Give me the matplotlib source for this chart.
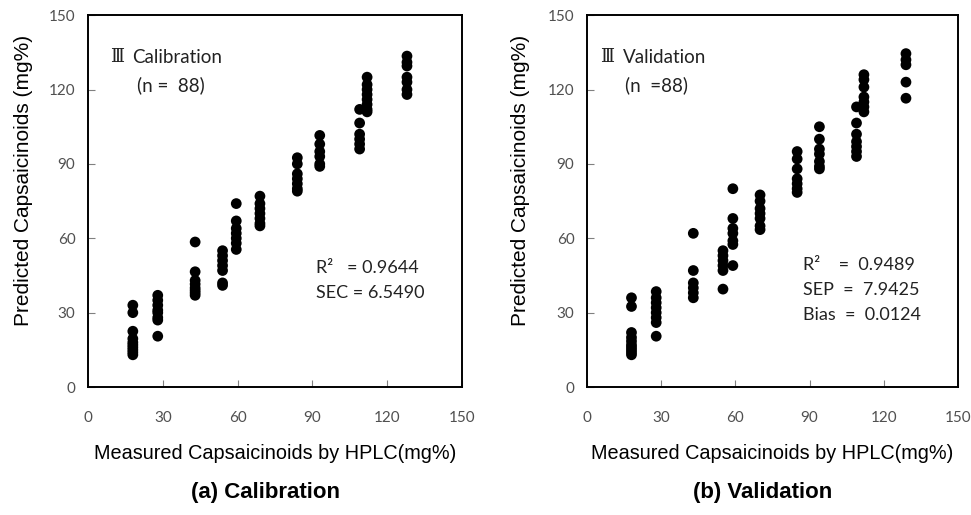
import matplotlib
matplotlib.use("Agg")
import matplotlib.pyplot as plt

# ---------------- data ----------------
cal_x = [18]*10 + [28]*8 + [43]*8 + [54]*7 + [59.5]*7 + [69]*7 + [84]*7 + [93]*6 + [109]*6 + [112]*8 + [128]*7
cal_y = [33, 30, 22.5, 19.5, 18, 17, 16, 15, 14, 13,
         37, 35, 33, 31, 30, 28, 27, 20.5,
         58.5, 46.5, 43, 41.5, 40, 39, 38, 37,
         55, 53, 51, 49, 47, 42, 41,
         74, 67, 64, 62, 60, 58, 55.5,
         77, 74, 72, 70, 68, 66, 65,
         92.5, 90, 86, 84, 82, 80, 79,
         101.5, 98, 95, 93, 90, 89,
         112, 106.5, 102, 100, 98, 96,
         125, 122, 120, 118, 116, 114, 112, 111,
         133.5, 131, 129.5, 125, 123, 120, 118]

val_x = [18]*10 + [28]*8 + [43]*6 + [55]*6 + [59]*7 + [70]*7 + [85]*7 + [94]*7 + [109]*7 + [112]*7 + [129]*5
val_y = [36, 32.5, 22, 20, 18.5, 17, 16, 15, 14, 13,
         38.5, 36, 34, 32, 30, 28, 26, 20.5,
         62, 47, 42, 40, 38, 36,
         55, 53, 51, 49, 47, 39.5,
         80, 68, 64, 62, 59, 57.5, 49,
         77.5, 75, 72, 70, 68, 65, 63.5,
         95, 92, 88, 84, 82, 80, 78.5,
         105, 100, 96, 94, 91, 89, 88,
         113, 106.5, 102, 99, 97, 95, 93,
         126, 124, 121, 117, 115, 113, 111,
         134.5, 132, 130, 123, 116.5]

ticks = [0, 30, 60, 90, 120, 150]
xlabel = "Measured Capsaicinoids by HPLC(mg%)"
ylabel = "Predicted Capsaicinoids (mg%)"

panels = [
    dict(x=cal_x, y=cal_y, title="Calibration", n="(n =  88)",
         stats=["R\u00b2   = 0.9644", "SEC = 6.5490"], caption="(a) Calibration",
         rect=[0.0906, 0.2485, 0.385, 0.722], tpos=(0.058, 0.887), npos=(0.131, 0.812),
         spos=(0.61, 0.32), ylab_x=-0.147),
    dict(x=val_x, y=val_y, title="Validation", n="(n  =88)",
         stats=["R\u00b2    =  0.9489", "SEP  =  7.9425", "Bias  =  0.0124"], caption="(b) Validation",
         rect=[0.6045, 0.2485, 0.382, 0.722], tpos=(0.036, 0.887), npos=(0.102, 0.812),
         spos=(0.582, 0.328), ylab_x=-0.154),
]

fig = plt.figure(figsize=(9.71, 5.15), dpi=100)
tick_color = "#505050"
ann_font = "Lato"
lab_font = "Liberation Sans"
ann_color = "#222222"

for p in panels:
    ax = fig.add_axes(p["rect"])
    ax.scatter(p["x"], p["y"], s=60, color="black", edgecolors="none", zorder=3)
    ax.set_xlim(0, 150)
    ax.set_ylim(0, 150)
    ax.set_xticks(ticks)
    ax.set_yticks(ticks)
    ax.tick_params(direction="in", length=5, width=0.8, color="#808080",
                   labelsize=11, labelcolor=tick_color, pad=9)
    for lab in ax.get_xticklabels() + ax.get_yticklabels():
        lab.set_fontfamily(ann_font)
    ax.tick_params(axis="x", pad=17)
    for sp in ax.spines.values():
        sp.set_linewidth(1.4)
        sp.set_color("black")
    ax.set_xlabel(xlabel, fontsize=14.3, family=lab_font, labelpad=14)
    ax.set_ylabel(ylabel, fontsize=15, family=lab_font)
    ax.yaxis.set_label_coords(p["ylab_x"], 0.555)
    tx, ty = p["tpos"]
    ax.text(tx, ty, "\u2162", transform=ax.transAxes, fontsize=13,
            family=["DejaVu Serif"], va="center", ha="left", color=ann_color)
    ax.text(tx + 0.06, ty, p["title"], transform=ax.transAxes, fontsize=13.5,
            family=ann_font, va="center", ha="left", color=ann_color)
    ax.text(p["npos"][0], p["npos"][1], p["n"], transform=ax.transAxes, fontsize=13.5,
            family=ann_font, va="center", ha="left", color=ann_color)
    sx, sy = p["spos"]
    for i, s in enumerate(p["stats"]):
        ax.text(sx, sy - i * 0.067, s, transform=ax.transAxes, fontsize=13,
                family=ann_font, va="center", ha="left", color=ann_color)
    cx = p["rect"][0] + p["rect"][2] / 2 - 0.01
    fig.text(cx, 0.043, p["caption"], fontsize=16, fontweight="bold",
             family=lab_font, ha="center", va="center")

fig.savefig("out.png", dpi=100)
